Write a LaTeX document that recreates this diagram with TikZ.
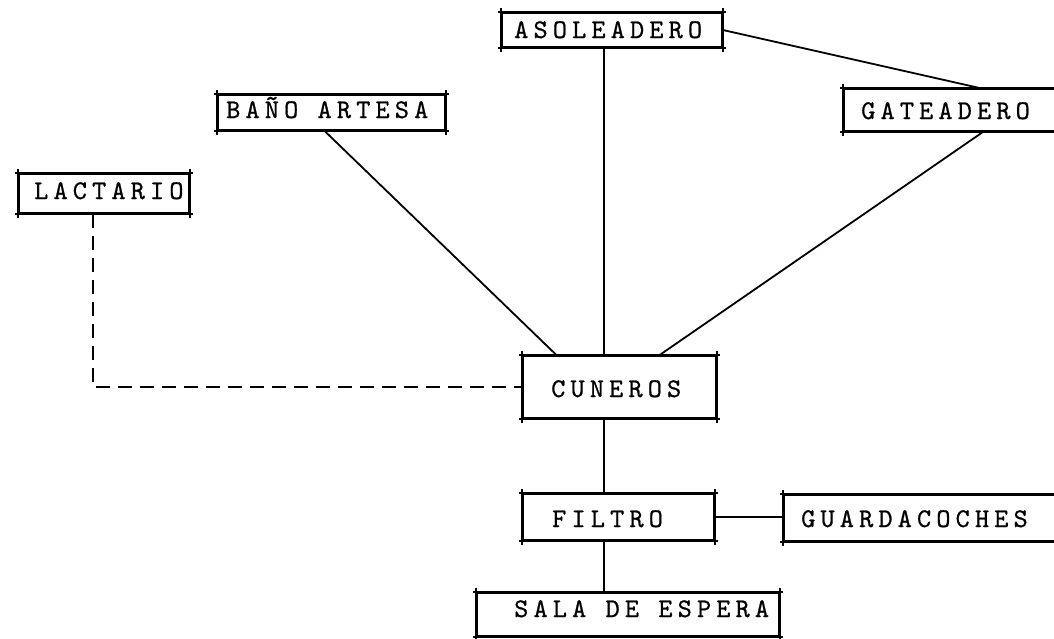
\documentclass[tikz,border=0pt]{standalone}
\usepackage{fontspec}
\newfontfamily\tw{lmmono10-regular.otf}[LetterSpace=19,FakeBold=0.7]
\usetikzlibrary{calc}
\tikzset{
  box/.style={draw, line width=1.8pt, rectangle, inner sep=0pt},
  lbl/.style={anchor=base west, inner sep=0pt, font=\tw\fontsize{27}{27}\selectfont},
  conn/.style={line width=1.8pt},
  dashconn/.style={conn, dash pattern=on 14pt off 8pt},
  tick/.style={line width=1.8pt},
}
% name, x1, y1, x2, y2, text-x, baseline-y, text
\newcommand\mybox[8]{%
  \node[box, minimum width={#4pt-#2pt}, minimum height={#5pt-#3pt}] (#1) at ({(#2+#4)/2},{(#3+#5)/2}) {};
  \node[lbl] (#1-t) at (#6,#7) {#8};
  \draw[tick] ([yshift=4pt]#1.north west) -- ([yshift=-4pt]#1.south west);
  \draw[tick] ([yshift=4pt]#1.north east) -- ([yshift=-4pt]#1.south east);
  \draw[tick] ([xshift=-3pt]#1.north west) -- ([xshift=3pt]#1.north east);
  \draw[tick] ([xshift=-3pt]#1.south west) -- ([xshift=3pt]#1.south east);
}
\begin{document}
\begin{tikzpicture}[x=1pt,y=-1pt]
\useasboundingbox (0,0) rectangle (1054,638);
\mybox{aso}{502}{13}{722}{47}{514}{38}{ASOLEADERO}
\mybox{bano}{218}{95}{445}{130}{226}{118}{BAÑO ARTESA}
\mybox{lac}{19}{174}{189}{213}{34}{199}{LACTARIO}
\mybox{gat}{844}{89}{1064}{131}{861}{119}{GATEADERO}
\mybox{cun}{523}{356}{716}{418}{551}{397}{CUNEROS}
\mybox{fil}{523}{494}{714}{540}{552}{527}{FILTRO}
\mybox{gua}{784}{495}{1064}{541}{801}{527}{GUARDACOCHES}
\mybox{sal}{477}{593}{779}{636}{514}{617}{SALA DE ESPERA}
\coordinate (spine) at (604,0);
\draw[conn] (aso.south -| spine) -- (cun.north -| spine);
\draw[conn] (cun.south -| spine) -- (fil.north -| spine);
\draw[conn] (fil.south -| spine) -- (sal.north -| spine);
\draw[conn] (aso.east) -- ([xshift=26pt]gat.north);
\draw[conn] ([xshift=-7pt]bano.south) -- ([xshift=-63pt]cun.north);
\draw[conn] ([xshift=29pt]gat.south) -- ([xshift=40pt]cun.north);
\draw[dashconn] ([xshift=-11pt]lac.south) |- (cun.west);
\draw[conn] (fil.east) -- (fil.east -| gua.west);
\end{tikzpicture}
\end{document}
